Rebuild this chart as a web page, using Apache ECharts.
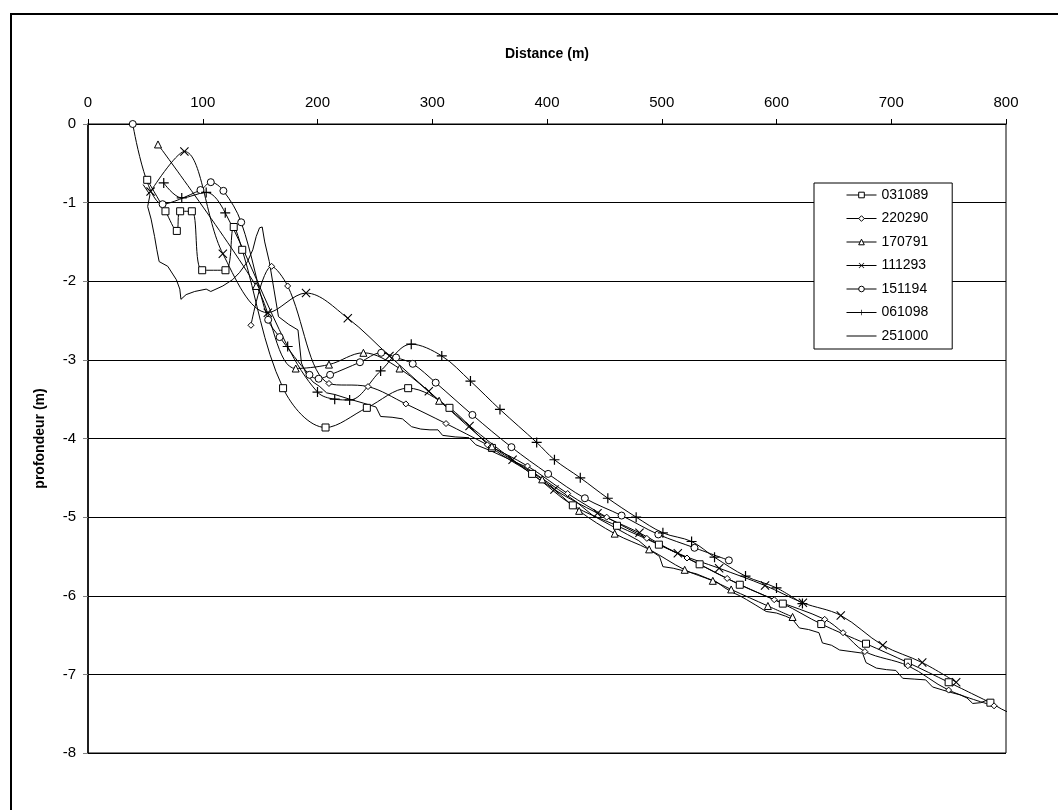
<!DOCTYPE html>
<html>
<head>
<meta charset="utf-8">
<script src="https://cdn.jsdelivr.net/npm/echarts@6/dist/echarts.min.js"></script>
<style>
  html, body { margin: 0; padding: 0; background: #fff; }
  #chart { width: 1058px; height: 810px; }
</style>
</head>
<body>
<div id="chart"></div>
<script>
// Bathymetric profiles: distance along the transect (m) vs depth (m), one survey per date.
const surveyNames = ['031089', '220290', '170791', '111293', '151194', '061098', '251000'];

const s031089 = [[51.6,-0.71],[67.5,-1.11],[77.4,-1.36],[80.3,-1.11],[90.5,-1.11],[99.5,-1.86],[119.8,-1.86],[127,-1.31],[134.4,-1.6],[170,-3.36],[207,-3.86],[243,-3.61],[279,-3.36],[315,-3.61],[352,-4.12],[387,-4.45],[422.5,-4.85],[461,-5.11],[497.5,-5.35],[533,-5.6],[568,-5.86],[605.5,-6.1],[639,-6.36],[678,-6.61],[714.5,-6.85],[750,-7.1],[786.4,-7.36]];

const s220290 = [[142,-2.56],[160,-1.81],[174,-2.06],[210,-3.3],[244,-3.34],[277,-3.56],[312,-3.81],[348,-4.08],[383,-4.35],[418,-4.7],[452,-5.0],[487,-5.27],[522,-5.52],[557,-5.78],[598,-6.05],[642,-6.3],[658,-6.47],[677,-6.71],[714.5,-6.89],[750,-7.2],[789.6,-7.4]];

const s170791 = [[61,-0.26],[146.5,-2.06],[181,-3.11],[210,-3.06],[240,-2.91],[271.5,-3.11],[306,-3.52],[352,-4.1],[395.8,-4.52],[428,-4.92],[459,-5.21],[489,-5.41],[520,-5.67],[544.5,-5.81],[560.5,-5.92],[592.5,-6.13],[614,-6.27]];

const s111293 = [[54.5,-0.86],[84,-0.35],[117.5,-1.65],[156.7,-2.4],[190,-2.15],[226.4,-2.47],[262.7,-2.95],[297,-3.4],[332.5,-3.84],[370,-4.27],[406.5,-4.65],[444,-4.95],[480.6,-5.2],[514,-5.46],[550,-5.65],[590,-5.87],[623,-6.09],[656,-6.25],[692.6,-6.63],[727,-6.85],[756.6,-7.1]];

const s151194 = [[39,0],[65,-1.02],[98,-0.84],[107,-0.74],[118,-0.85],[133.5,-1.25],[157,-2.49],[167,-2.71],[193,-3.19],[201,-3.24],[211,-3.19],[237,-3.03],[255.5,-2.91],[268.5,-2.97],[283,-3.05],[303,-3.29],[335,-3.7],[369,-4.11],[401,-4.45],[433,-4.76],[465,-4.98],[497,-5.22],[528.5,-5.39],[558.5,-5.55]];

const s061098 = [[66,-0.75],[81.7,-0.94],[103,-0.87],[119.6,-1.13],[174,-2.83],[200,-3.41],[215,-3.5],[228,-3.51],[255,-3.14],[281.7,-2.8],[308.3,-2.95],[333.3,-3.27],[359,-3.63],[391,-4.05],[406.5,-4.27],[429,-4.5],[453,-4.76],[477.7,-5.0],[501,-5.2],[526,-5.31],[546,-5.51],[573,-5.75],[600,-5.9],[622.6,-6.1]];

const s251000 = [[48,-0.77],[54,-0.9],[52,-1.05],[55,-1.21],[58,-1.43],[60,-1.6],[62,-1.75],[69.5,-1.81],[77,-1.98],[80,-2.1],[81,-2.23],[85.5,-2.17],[93,-2.13],[103,-2.1],[107,-2.13],[117.5,-2.06],[126,-1.98],[132,-1.89],[139,-1.75],[143.6,-1.6],[146.6,-1.43],[149.5,-1.32],[151.8,-1.31],[154,-1.5],[158,-1.75],[162,-2.1],[166,-2.45],[175,-2.55],[183,-2.62],[185,-2.9],[186,-3.04],[190,-3.17],[196,-3.28],[202,-3.34],[208,-3.42],[215,-3.44],[228,-3.5],[240,-3.55],[251,-3.6],[255,-3.72],[265,-3.73],[274,-3.75],[282,-3.85],[290,-3.88],[298,-3.89],[305,-3.89],[309,-3.96],[320,-3.98],[332,-3.99],[338,-4.08],[350,-4.15],[365,-4.25],[380,-4.35],[395,-4.5],[410,-4.65],[425,-4.8],[440,-4.98],[455,-5.1],[470,-5.22],[480,-5.3],[489,-5.41],[498,-5.5],[501,-5.63],[510,-5.65],[521,-5.69],[530,-5.72],[540,-5.78],[547.5,-5.82],[555,-5.9],[562,-5.96],[568,-6.0],[574,-6.05],[582,-6.12],[591,-6.2],[600,-6.22],[608,-6.26],[614,-6.3],[620,-6.41],[628,-6.43],[637,-6.47],[640,-6.6],[648,-6.63],[655,-6.69],[665,-6.71],[675,-6.73],[678,-6.85],[687,-6.92],[696,-6.94],[704,-6.95],[710,-7.05],[720,-7.06],[730,-7.07],[736,-7.16],[745,-7.2],[752,-7.23],[760,-7.26],[766,-7.3],[771,-7.37],[778,-7.36],[783,-7.33],[789,-7.38],[796,-7.44],[803,-7.49]];

const xTickValues = [0, 100, 200, 300, 400, 500, 600, 700, 800];
const yTickValues = [0, -1, -2, -3, -4, -5, -6, -7, -8];

// Stroke-like glyphs drawn as filled outlines
const PLUS = 'path://M4.4,0H5.6V4.4H10V5.6H5.6V10H4.4V5.6H0V4.4H4.4Z';
const CROSS = 'path://M0,0.85L0.85,0L5,4.15L9.15,0L10,0.85L5.85,5L10,9.15L9.15,10L5,5.85L0.85,10L0,9.15L4.15,5Z';
// Plain thin bar used as the legend key of the unmarked profile
const THIN_LINE = 'path://M0,0H30V1H0Z';

const FONT = '"Liberation Sans", Arial, sans-serif';

const hollowNames = ['031089', '220290', '170791', '151194'];

function markedSeries(name, data, symbol, size, hollow) {
  return {
    name: name,
    type: 'line',
    data: data,
    smooth: 0.35,
    symbol: symbol,
    symbolSize: size,
    showSymbol: true,
    lineStyle: { color: '#000', width: 1 },
    itemStyle: hollow
      ? { color: '#fff', borderColor: '#000', borderWidth: 1 }
      : { color: '#000', borderWidth: 0 },
    emphasis: { disabled: true },
    z: 3
  };
}

const legendData = surveyNames.map(n => {
  if (n === '251000') return { name: n, icon: THIN_LINE };
  if (hollowNames.indexOf(n) >= 0) {
    return { name: n, itemStyle: { color: '#fff', borderColor: '#000', borderWidth: 1 } };
  }
  return { name: n };
});

const chart = echarts.init(document.getElementById('chart'), null, { renderer: 'canvas' });

chart.setOption({
  animation: false,
  backgroundColor: '#fff',
  textStyle: { fontFamily: FONT, color: '#000' },
  graphic: [{
    type: 'rect',
    shape: { x: 11, y: 14, width: 1100, height: 900 },
    style: { fill: 'none', stroke: '#000', lineWidth: 2 },
    silent: true,
    z: -10
  }],
  grid: {
    left: 88, top: 124, width: 918, height: 629,
    show: true, borderColor: '#000', borderWidth: 1, backgroundColor: 'transparent'
  },
  legend: {
    orient: 'vertical',
    left: 814, top: 183,
    padding: [5, 24, 6, 32],
    itemGap: 9.5,
    itemWidth: 30,
    itemHeight: 7,
    backgroundColor: '#fff',
    borderColor: '#000',
    borderWidth: 1,
    borderRadius: 0,
    data: legendData,
    lineStyle: { width: 1, color: '#000' },
    textStyle: { fontFamily: FONT, fontSize: 14, color: '#000', lineHeight: 14 },
    selectedMode: false
  },
  xAxis: {
    type: 'value',
    position: 'top',
    min: 0, max: 800, interval: 100,
    name: 'Distance (m)',
    nameLocation: 'middle',
    nameGap: 63,
    nameTextStyle: { fontFamily: FONT, fontWeight: 'bold', fontSize: 14, color: '#000' },
    axisLine: { show: true, lineStyle: { color: '#000', width: 1 } },
    axisTick: { show: true, inside: false, length: 5, lineStyle: { color: '#000' } },
    axisLabel: {
      fontFamily: FONT, fontSize: 15, color: '#000', margin: 14,
      formatter: v => (xTickValues.indexOf(v) >= 0 ? String(v) : '')
    },
    splitLine: { show: false }
  },
  yAxis: {
    type: 'value',
    min: -8, max: 0, interval: 1,
    name: 'profondeur (m)',
    nameLocation: 'middle',
    nameRotate: 90,
    nameGap: 41,
    nameTextStyle: { fontFamily: FONT, fontWeight: 'bold', fontSize: 14, color: '#000' },
    axisLine: { show: true, onZero: false, lineStyle: { color: '#000', width: 1.5 } },
    axisTick: { show: true, inside: false, length: 5, lineStyle: { color: '#808080' } },
    axisLabel: {
      fontFamily: FONT, fontSize: 15, color: '#000', margin: 12,
      formatter: v => (yTickValues.indexOf(v) >= 0 ? String(v) : '')
    },
    splitLine: { show: true, lineStyle: { color: '#000', width: 1 } }
  },
  series: [
    markedSeries('031089', s031089, 'rect', 7, true),
    markedSeries('220290', s220290, 'diamond', 6, true),
    markedSeries('170791', s170791, 'triangle', 7, true),
    markedSeries('111293', s111293, CROSS, 9, false),
    markedSeries('151194', s151194, 'circle', 7, true),
    markedSeries('061098', s061098, PLUS, 10, false),
    {
      name: '251000',
      type: 'line',
      data: s251000,
      symbol: 'none',
      showSymbol: false,
      smooth: false,
      clip: false,
      lineStyle: { color: '#000', width: 1 },
      itemStyle: { color: '#000' },
      emphasis: { disabled: true },
      z: 2
    }
  ]
});
</script>
</body>
</html>
